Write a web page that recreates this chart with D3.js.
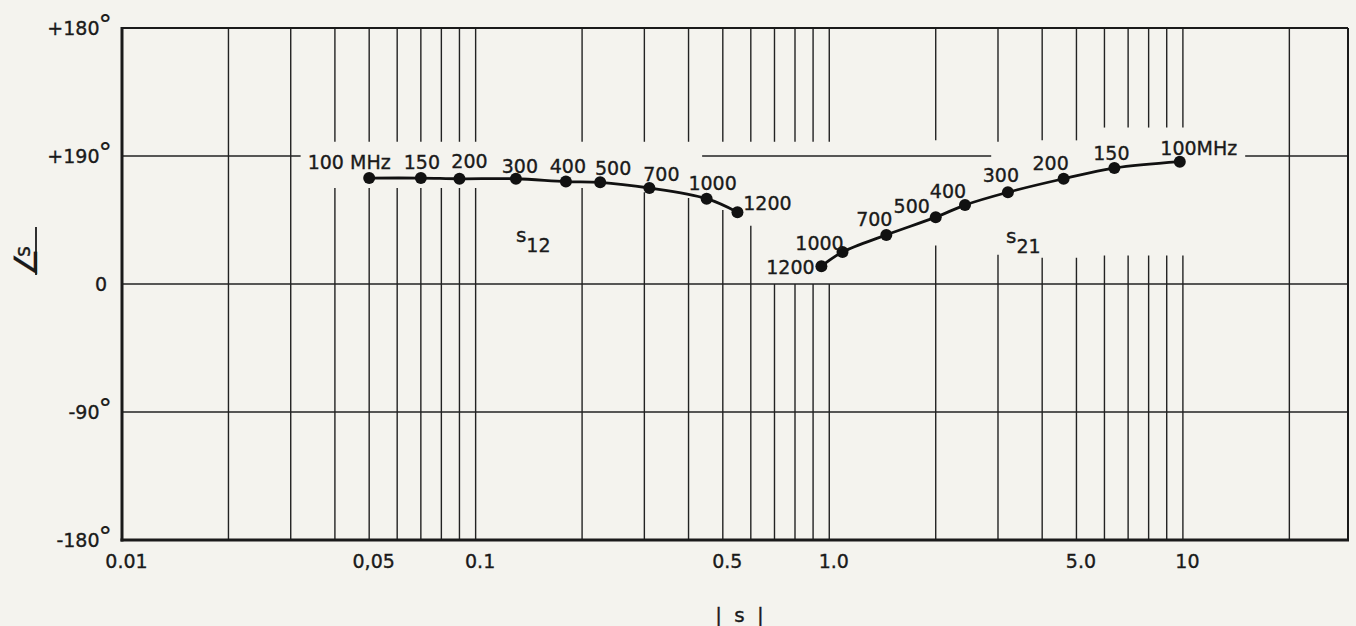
<!DOCTYPE html>
<html>
<head>
<meta charset="utf-8">
<script src="https://d3js.org/d3.v7.min.js"></script>
<style>
    body { margin: 0; background: #f4f3ee; }
    svg { display: block; }
    text { font-family: "DejaVu Sans", sans-serif; fill: #1a1a1a; }
    .grid { stroke: #222; stroke-width: 1.4; fill: none; }
    .frame { stroke: #1a1a1a; fill: none; }
    .curve { stroke: #111; stroke-width: 2.8; fill: none; }
    .dot { fill: #111; }
    .lbl { font-size: 19px; stroke: #1a1a1a; stroke-width: 0.35px; }
</style>
</head>
<body>
<svg width="1356" height="626"></svg>
<script>
// measurement frequencies (MHz)
const freqs = [100, 150, 200, 300, 400, 500, 700, 1000, 1200];

// s12: magnitude and angle (deg) at each frequency
const s12Mag = [0.05, 0.07, 0.09, 0.13, 0.18, 0.225, 0.31, 0.45, 0.55];
const s12Ang = [74.5, 74.5, 74, 74, 72, 71.5, 67.5, 60, 50.5];
const s12Labels = ["100 MHz", "150", "200", "300", "400", "500", "700", "1000", "1200"];

// s21
const s21Mag = [9.8, 6.4, 4.6, 3.2, 2.42, 2.0, 1.45, 1.09, 0.95];
const s21Ang = [86, 81.5, 74, 64.5, 55.5, 47, 34.5, 22.5, 12.5];
const s21Labels = ["100MHz", "150", "200", "300", "400", "500", "700", "1000", "1200"];

// axis ticks
const xTickValues = [0.01, 0.05, 0.1, 0.5, 1, 5, 10];
const xTickLabels = ["0.01", "0,05", "0.1", "0.5", "1.0", "5.0", "10"];
const yTickValues = [180, 90, 0, -90, -180];
const yTickLabels = ["+180", "+190", "0", "-90", "-180"];
const yTickDegree = [true, true, false, true, true];

// grid lines
const gridX = [0.02, 0.03, 0.04, 0.05, 0.06, 0.07, 0.08, 0.09, 0.1,
               0.2, 0.3, 0.4, 0.5, 0.6, 0.7, 0.8, 0.9, 1,
               2, 3, 4, 5, 6, 7, 8, 9, 10, 20];
const gridY = [90, 0, -90];

// ---- layout (not data) ----
// blank stretches left in the drafted grid, [gridline, from, to]
const vGaps = [
    [0.04, 67.5, 100], [0.05, 67.5, 100], [0.06, 67.5, 100], [0.07, 67.5, 100],
    [0.08, 67.5, 100], [0.09, 67.5, 100], [0.1, 67.5, 100], [0.2, 67.5, 100],
    [0.3, 64.5, 100], [0.4, 60.5, 100], [0.5, 52, 100], [0.6, 41, 100],
    [0.7, 0, 100], [0.8, 0, 100], [0.9, 0, 100], [1, 0, 100],
    [2, 27, 101], [3, 20.5, 100], [4, 18.5, 101], [5, 18.5, 101],
    [6, 20, 110], [7, 20, 110], [8, 20, 110], [9, 20, 110], [10, 20, 110]
];
const hGaps = [[90, 0.032, 0.437], [90, 2.87, 15]];

// label offsets from their point, px
const s12Off = [[-20, -16], [1, -16], [10, -18], [4, -13], [2, -16], [13, -14], [12, -14], [6, -16], [30, -9]];
const s21Off = [[19, -14], [-3, -15], [-13, -16], [-7, -17], [-17, -14], [-24, -11], [-12, -16], [-23, -9], [-31, 1]];

const svg = d3.select('svg');
svg.append('rect').attr('width', 1356).attr('height', 626).attr('fill', '#f4f3ee');

const x = d3.scaleLog().domain([0.01, 29.3]).range([122, 1348]);
const y = d3.scaleLinear().domain([-180, 180]).range([540, 28]);

function pieces(a, b, gaps) {
    var out = [], cur = a;
    gaps.slice().sort(function (p, q) { return p[0] - q[0]; }).forEach(function (g) {
        if (g[0] > cur) out.push([cur, g[0]]);
        cur = Math.max(cur, g[1]);
    });
    if (cur < b) out.push([cur, b]);
    return out;
}

const grid = svg.append('g');
gridX.forEach(function (v) {
    var gaps = vGaps.filter(function (g) { return g[0] === v; }).map(function (g) { return [g[1], g[2]]; });
    pieces(-180, 180, gaps).forEach(function (s) {
        grid.append('line').attr('class', 'grid')
            .attr('x1', x(v)).attr('x2', x(v))
            .attr('y1', y(s[0])).attr('y2', y(s[1]));
    });
});
gridY.forEach(function (v) {
    var gaps = hGaps.filter(function (g) { return g[0] === v; }).map(function (g) { return [g[1], g[2]]; });
    pieces(0.01, 29.3, gaps).forEach(function (s) {
        grid.append('line').attr('class', 'grid')
            .attr('x1', x(s[0])).attr('x2', x(s[1]))
            .attr('y1', y(v)).attr('y2', y(v));
    });
});

// frame
const x0 = x.range()[0], x1 = x.range()[1], yb = y.range()[0], yt = y.range()[1];
svg.append('line').attr('class', 'frame').attr('stroke-width', 2.2).attr('x1', x0).attr('x2', x1).attr('y1', yt).attr('y2', yt);
svg.append('line').attr('class', 'frame').attr('stroke-width', 2).attr('x1', x1).attr('x2', x1).attr('y1', yt).attr('y2', yb);
svg.append('line').attr('class', 'frame').attr('stroke-width', 3).attr('x1', x0).attr('x2', x0).attr('y1', yt - 1).attr('y2', yb + 1.5);
svg.append('line').attr('class', 'frame').attr('stroke-width', 3).attr('x1', x0 - 1.5).attr('x2', x1 + 1).attr('y1', yb).attr('y2', yb);

// axes
const xAxis = svg.append('g').attr('transform', 'translate(0,' + yb + ')')
    .call(d3.axisBottom(x).tickValues(xTickValues).tickSize(0).tickPadding(15)
        .tickFormat(function (d, i) { return xTickLabels[i]; }));
xAxis.select('.domain').remove();
xAxis.selectAll('text').attr('class', 'lbl').attr('dx', 4).style('font-family', null);

const yAxis = svg.append('g').attr('transform', 'translate(' + x0 + ',0)')
    .call(d3.axisLeft(y).tickValues(yTickValues).tickSize(0).tickPadding(10)
        .tickFormat(function (d, i) { return yTickLabels[i]; }));
yAxis.select('.domain').remove();
yAxis.selectAll('text').attr('class', 'lbl').style('font-family', null)
    .each(function (d, i) {
        var t = d3.select(this);
        if (yTickDegree[i]) {
            t.append('tspan').attr('dy', -1).attr('dx', -1).style('font-size', '27px').style('stroke-width', '0.2px').text('°');
        } else {
            t.attr('dx', -5);
        }
    });

// curves
const line = d3.line()
    .x(function (d) { return x(d.m); })
    .y(function (d) { return y(d.a); })
    .curve(d3.curveCatmullRom.alpha(0.5));

function series(mag, ang, labels, offs) {
    var pts = freqs.map(function (f, i) { return { f: f, m: mag[i], a: ang[i], l: labels[i], o: offs[i] }; });
    svg.append('path').datum(pts).attr('class', 'curve').attr('d', line);
    svg.append('g').selectAll('circle').data(pts).enter().append('circle')
        .attr('class', 'dot').attr('r', 6)
        .attr('cx', function (d) { return x(d.m); })
        .attr('cy', function (d) { return y(d.a); });
    svg.append('g').selectAll('text').data(pts).enter().append('text')
        .attr('class', 'lbl').attr('text-anchor', 'middle')
        .attr('x', function (d) { return x(d.m) + d.o[0]; })
        .attr('y', function (d) { return y(d.a) + d.o[1] + 7; })
        .text(function (d) { return d.l; });
}
series(s12Mag, s12Ang, s12Labels, s12Off);
series(s21Mag, s21Ang, s21Labels, s21Off);

// curve names
function tag(m, a, sub) {
    var t = svg.append('text').attr('class', 'lbl').attr('x', x(m)).attr('y', y(a));
    t.append('tspan').style('font-size', '20px').text('s');
    t.append('tspan').attr('dy', 10).text(sub);
}
tag(0.13, 29.5, '12');
tag(3.16, 28.8, '21');

// axis titles
svg.append('text').attr('class', 'lbl').attr('text-anchor', 'middle')
    .attr('x', (x0 + x1) / 2 + 6).attr('y', 622)
    .style('font-size', '20px').style('letter-spacing', '3px')
    .text('| s |');

// angle-of-s title, read bottom to top
const yTitle = svg.append('g').attr('transform', 'translate(37,277) rotate(-90)');
yTitle.append('line').attr('x1', 2).attr('x2', 50).attr('y1', -1).attr('y2', -1)
    .attr('stroke', '#1a1a1a').attr('stroke-width', 1.8);
yTitle.append('text').attr('class', 'lbl').style('font-size', '32px').style('stroke-width', '0.2px').text('∠');
yTitle.append('text').attr('class', 'lbl').attr('x', 20).attr('y', -7).style('font-size', '21px').text('s');
</script>
</body>
</html>
